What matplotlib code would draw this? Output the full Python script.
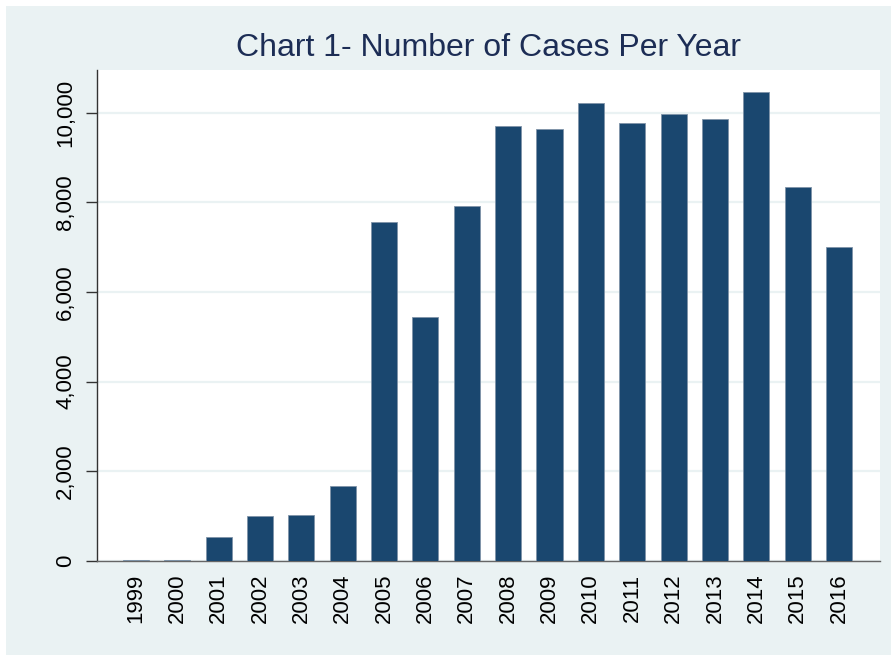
import matplotlib
matplotlib.use("Agg")
import matplotlib.pyplot as plt
from matplotlib.patches import Rectangle
from matplotlib.ticker import FuncFormatter

years = ["1999", "2000", "2001", "2002", "2003", "2004", "2005", "2006", "2007",
         "2008", "2009", "2010", "2011", "2012", "2013", "2014", "2015", "2016"]
cases = [18, 20, 536, 998, 1020, 1667, 7560, 5440, 7917,
         9702, 9636, 10223, 9770, 9963, 9850, 10469, 8342, 6993]
yticks = [0, 2000, 4000, 6000, 8000, 10000]

BG = "#EAF2F3"
BAR = "#1A476F"

plt.rcParams['font.family'] = ['Liberation Sans', 'DejaVu Sans']

fig = plt.figure(figsize=(8.91, 6.55), dpi=100)
fig.patch.set_facecolor("white")
fig.add_artist(Rectangle((6 / 891, 0), 1 - 6 / 891, 1 - 6 / 655,
                         transform=fig.transFigure, facecolor=BG,
                         edgecolor="none", zorder=-10))

ax = fig.add_axes([97 / 891, 1 - 561 / 655, (880 - 97) / 891, (561 - 70) / 655])
ax.set_facecolor("white")

x = list(range(len(years)))
ax.bar(x, cases, width=0.63, color=BAR, edgecolor="#7f93a8", linewidth=0.6, zorder=3)

ax.set_xlim(-0.94, len(years) - 1 + 0.99)
ax.set_ylim(0, 10950)
ax.set_yticks(yticks)
ax.yaxis.set_major_formatter(FuncFormatter(lambda v, p: f"{int(v):,}"))
ax.set_xticks(x)
ax.set_xticklabels(years)

ax.grid(axis="y", color=BG, linewidth=1.6, zorder=0)
ax.set_axisbelow(True)

for s in ["top", "right"]:
    ax.spines[s].set_visible(False)
ax.spines["left"].set_color("#333333")
ax.spines["left"].set_linewidth(1.0)
ax.spines["bottom"].set_color("#666666")
ax.spines["bottom"].set_linewidth(1.0)

ax.tick_params(axis="y", length=8, width=1.0, color="#333333", pad=7,
               labelsize=16, labelrotation=90)
for lab in ax.get_yticklabels():
    lab.set_va("center")
ax.tick_params(axis="x", length=0, pad=9, labelsize=16, labelrotation=90)

fig.text((97 + 880) / 2 / 891, 1 - 48 / 655, "Chart 1- Number of Cases Per Year",
         ha="center", va="center", fontsize=23, color="#1c2d55")

fig.savefig("out.png", dpi=100, facecolor=fig.get_facecolor())
